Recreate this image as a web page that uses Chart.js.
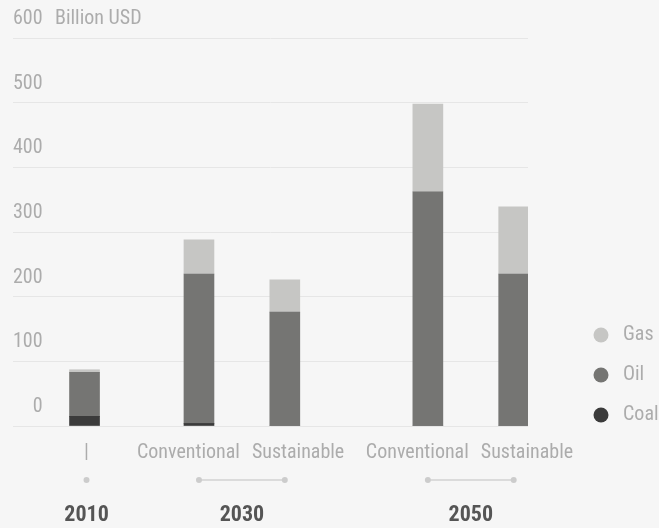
<!DOCTYPE html>
<html>
<head>
<meta charset="utf-8">
<script src="https://cdn.jsdelivr.net/npm/chart.js@4.4.1/dist/chart.umd.min.js"></script>
<style>
  html, body { margin: 0; padding: 0; background: #f6f6f6; }
  #wrap { width: 659px; height: 528px; }
</style>
</head>
<body>
<div id="wrap"><canvas id="chart" width="659" height="528"></canvas></div>
<script>
// values, billion USD
const years = ["2010", "2030", "2050"];
const scenarios = ["|", "Conventional", "Sustainable", "Conventional", "Sustainable"];
const scenarioYear = [0, 1, 1, 2, 2];
const coal = [15, 4, 0, 0, 0];
const oil = [68, 231, 176, 362, 235];
const gas = [4, 53, 50, 136, 104];
const yTicks = [0, 100, 200, 300, 400, 500, 600];
const unit = "Billion USD";
// empty category slots before each bar, so the groups sit apart
const gapBefore = [2, 3, 2, 4, 2];

const FONT = '"Liberation Sans Narrow", "Roboto Condensed", "DejaVu Sans Condensed", "Arial Narrow", sans-serif';
const colors = { coal: "#3b3b3b", oil: "#757573", gas: "#c6c6c4" };
const lightText = "#acacac";

// build the category slots
const slotLabels = [];
const barSlot = [];
scenarios.forEach((s, i) => {
  for (let k = 0; k < gapBefore[i]; k++) slotLabels.push("");
  barSlot.push(slotLabels.length);
  slotLabels.push(s);
});
function spread(values) {
  const out = slotLabels.map(() => null);
  values.forEach((v, i) => { out[barSlot[i]] = v; });
  return out;
}

// bottom labels, dots, unit text and legend
const decor = {
  id: "decor",
  afterDraw(chart) {
    const ctx = chart.ctx;
    const area = chart.chartArea;
    const xScale = chart.scales.x;
    const yScale = chart.scales.y;
    const xs = barSlot.map(s => xScale.getPixelForValue(s));
    ctx.save();

    // unit next to the top tick
    ctx.font = "20px " + FONT;
    ctx.fillStyle = lightText;
    ctx.textAlign = "left";
    ctx.textBaseline = "middle";
    ctx.fillText(unit, 55, yScale.getPixelForValue(600) - 19);

    const labelY = area.bottom + 27;
    const dotY = area.bottom + 54;
    const yearY = area.bottom + 89;

    years.forEach((yr, g) => {
      const idx = [];
      scenarioYear.forEach((y, i) => { if (y === g) idx.push(i); });
      ctx.font = "20px " + FONT;
      ctx.fillStyle = lightText;
      let center;
      if (idx.length === 1) {
        center = xs[idx[0]] + 2;
        ctx.textAlign = "center";
        ctx.fillText(scenarios[idx[0]], center, labelY);
      } else {
        const a = xs[idx[0]], b = xs[idx[idx.length - 1]];
        center = (a + b) / 2;
        ctx.textAlign = "right";
        ctx.fillText(scenarios[idx[0]], center - 2, labelY);
        ctx.textAlign = "left";
        ctx.fillText(scenarios[idx[1]], center + 10, labelY);
        ctx.strokeStyle = "#d2d2d2";
        ctx.lineWidth = 1.5;
        ctx.beginPath();
        ctx.moveTo(a, dotY);
        ctx.lineTo(b, dotY);
        ctx.stroke();
      }
      ctx.fillStyle = "#cccccc";
      idx.forEach(i => {
        const px = idx.length === 1 ? center : xs[i];
        ctx.beginPath();
        ctx.arc(px, dotY, 3, 0, Math.PI * 2);
        ctx.fill();
      });
      ctx.font = "bold 22px " + FONT;
      ctx.fillStyle = "#555555";
      ctx.textAlign = "center";
      ctx.fillText(yr, center, yearY);
    });

    // legend, bottom up: Coal, Oil, Gas
    chart.data.datasets.forEach((ds, k) => {
      const cy = area.bottom - 11 - k * 40;
      ctx.fillStyle = ds.backgroundColor;
      ctx.beginPath();
      ctx.arc(area.right + 73, cy, 7.5, 0, Math.PI * 2);
      ctx.fill();
      ctx.font = "20px " + FONT;
      ctx.fillStyle = lightText;
      ctx.textAlign = "left";
      ctx.fillText(ds.label, area.right + 95, cy);
    });
    ctx.restore();
  }
};

new Chart(document.getElementById("chart"), {
  type: "bar",
  data: {
    labels: slotLabels,
    datasets: [
      { label: "Coal", data: spread(coal), backgroundColor: colors.coal },
      { label: "Oil", data: spread(oil), backgroundColor: colors.oil },
      { label: "Gas", data: spread(gas), backgroundColor: colors.gas }
    ]
  },
  options: {
    responsive: false,
    devicePixelRatio: 1,
    animation: false,
    layout: { padding: { top: 38, left: 13, right: 131, bottom: 102 } },
    datasets: { bar: { barThickness: 30, borderWidth: 0 } },
    plugins: { legend: { display: false }, tooltip: { enabled: false } },
    scales: {
      x: {
        stacked: true,
        grid: { display: false, drawTicks: false },
        border: { display: false },
        ticks: { display: false }
      },
      y: {
        stacked: true,
        min: 0,
        max: 600,
        afterBuildTicks: scale => { scale.ticks = yTicks.map(v => ({ value: v })); },
        grid: { color: "#e6e6e6", drawTicks: false },
        border: { display: false },
        ticks: {
          mirror: true,
          crossAlign: "far",
          padding: 0,
          labelOffset: -19,
          color: lightText,
          font: { family: FONT, size: 20 }
        }
      }
    }
  },
  plugins: [decor]
});
</script>
</body>
</html>
